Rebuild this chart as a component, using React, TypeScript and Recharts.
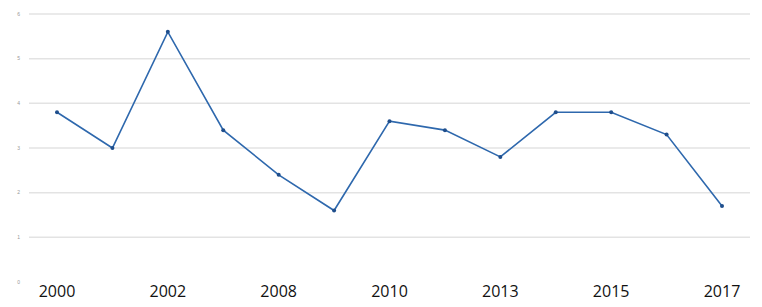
import { LineChart, Line, XAxis, YAxis, CartesianGrid } from "recharts";

// category labels: only every other one is shown in the picture
const years = [
  "2000", "2001", "2002", "2005", "2008", "2009", "2010",
  "2012", "2013", "2014", "2015", "2016", "2017",
];
const values = [3.8, 3.0, 5.6, 3.4, 2.4, 1.6, 3.6, 3.4, 2.8, 3.8, 3.8, 3.3, 1.7];
const yTicks = [0, 1, 2, 3, 4, 5, 6];

const data = years.map((y, i) => ({ year: y, value: values[i] }));

export default function App() {
  return (
    <div style={{ position: "absolute", left: 0, top: 0, background: "#fff" }}>
      <LineChart
        width={762}
        height={307}
        data={data}
        margin={{ top: 14, right: 12, bottom: 0, left: 0 }}
      >
        <CartesianGrid
          vertical={false}
          stroke="#e3e3e3"
          strokeWidth={1.5}
          horizontalValues={[1, 2, 3, 4, 5, 6]}
        />
        <XAxis
          dataKey="year"
          interval={1}
          padding={{ left: 28, right: 28 }}
          axisLine={false}
          tickLine={false}
          tickSize={0}
          tickMargin={4}
          height={25}
          tick={{ fontSize: 16, fill: "#111", fontFamily: "Open Sans" }}
        />
        <YAxis
          domain={[0, 6]}
          ticks={yTicks}
          width={29}
          axisLine={false}
          tickLine={false}
          tickSize={0}
          tickMargin={9}
          tick={{ fontSize: 5, fill: "#999", fontFamily: "Liberation Sans" }}
        />
        <Line
          type="linear"
          dataKey="value"
          stroke="#2e68ad"
          strokeWidth={1.6}
          dot={{ r: 2, fill: "#1f4e8c", stroke: "none" }}
          isAnimationActive={false}
        />
      </LineChart>
    </div>
  );
}
